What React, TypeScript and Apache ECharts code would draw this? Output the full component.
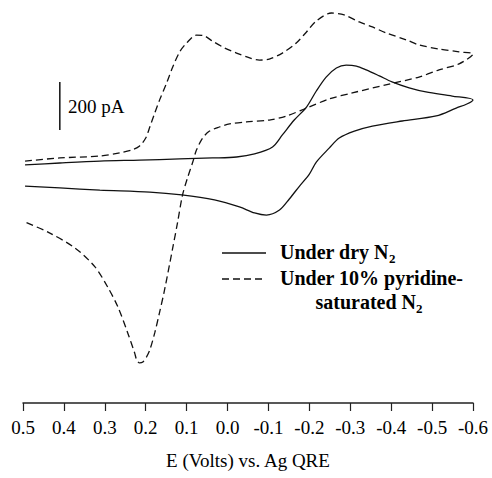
import React, { useEffect, useRef } from "react";
import * as echarts from "echarts";

// Potential (V vs Ag QRE) and current (pA).
// Under dry N2: forward scan (0.5 -> -0.6) then return scan.
const dryForward: number[][] = [
  [0.495, -8], [0.41, 0], [0.312, 8], [0.215, 12], [0.117, 17], [0.037, 21],
  [-0.022, 25], [-0.066, 38], [-0.11, 67], [-0.134, 117], [-0.163, 179],
  [-0.193, 233], [-0.217, 300], [-0.241, 358], [-0.266, 396], [-0.29, 408],
  [-0.315, 404], [-0.339, 388], [-0.371, 363], [-0.402, 338], [-0.444, 313],
  [-0.485, 296], [-0.549, 279], [-0.6, 263],
];
const dryReturn: number[][] = [
  [-0.585, 246], [-0.559, 229], [-0.51, 196], [-0.427, 175], [-0.354, 154],
  [-0.31, 133], [-0.273, 104], [-0.249, 63], [-0.217, 4], [-0.2, -46],
  [-0.176, -96], [-0.151, -150], [-0.127, -196], [-0.095, -217], [-0.066, -208],
  [-0.029, -183], [0.032, -154], [0.112, -133], [0.19, -121], [0.312, -113],
  [0.41, -104], [0.495, -96],
];
// Under 10% pyridine-saturated N2
const pyrForward: number[][] = [
  [0.495, 8], [0.41, 21], [0.312, 29], [0.263, 42], [0.234, 54], [0.215, 71],
  [0.2, 104], [0.19, 150], [0.178, 208], [0.166, 263], [0.149, 333],
  [0.134, 400], [0.117, 463], [0.1, 500], [0.076, 533], [0.056, 529],
  [0.037, 508], [0.007, 479], [-0.022, 458], [-0.054, 438], [-0.078, 429],
  [-0.102, 433], [-0.134, 458], [-0.168, 500], [-0.193, 546], [-0.217, 592],
  [-0.254, 625], [-0.285, 617], [-0.322, 588], [-0.354, 567], [-0.388, 542],
  [-0.437, 513], [-0.468, 492], [-0.517, 475], [-0.566, 463], [-0.6, 454],
];
const pyrReturn: number[][] = [
  [-0.566, 413], [-0.517, 388], [-0.468, 358], [-0.395, 329], [-0.305, 292],
  [-0.249, 267], [-0.193, 229], [-0.144, 196], [-0.102, 179], [-0.046, 171],
  [-0.005, 163], [0.02, 150], [0.044, 133], [0.061, 104], [0.076, 54],
  [0.085, 4], [0.098, -63], [0.11, -133], [0.122, -246], [0.134, -354],
  [0.154, -529], [0.166, -621], [0.178, -708], [0.19, -779], [0.198, -808],
  [0.207, -829], [0.215, -833], [0.222, -821], [0.227, -792], [0.244, -708],
  [0.268, -600], [0.293, -517], [0.324, -433], [0.373, -354], [0.439, -288],
  [0.495, -246],
];
// 200 pA scale bar
const scaleBar: number[][] = [[0.41, 137.5], [0.41, 337.5]];
const scaleLabel = "200 pA";

const xTicks = { min: -0.6, max: 0.5, interval: 0.1 };
const xTitle = "E (Volts) vs. Ag QRE";
const legendNames = ["Under dry N", "Under 10% pyridine-", "saturated N"];

const FONT = "'Liberation Serif', 'Times New Roman', serif";

export default function App() {
  const ref = useRef<HTMLDivElement>(null);
  useEffect(() => {
    if (!ref.current) return;
    const chart = echarts.init(ref.current, undefined, { renderer: "svg" });
    const lineCol = "#111";
    const rich = {
      b: { fontFamily: FONT, fontSize: 20, fontWeight: "bold", color: "#000", lineHeight: 20 },
      sub: {
        fontFamily: FONT,
        fontSize: 13,
        fontWeight: "bold",
        color: "#000",
        verticalAlign: "bottom",
        lineHeight: 26,
      },
    };
    chart.setOption({
      animation: false,
      backgroundColor: "#fff",
      grid: { left: 23, right: 19, top: 7, bottom: 75, containLabel: false },
      xAxis: {
        type: "value",
        inverse: true,
        min: xTicks.min,
        max: xTicks.max,
        interval: xTicks.interval,
        splitLine: { show: false },
        axisLine: { show: true, onZero: false, lineStyle: { color: "#222", width: 1.5 } },
        axisTick: { show: true, inside: false, length: 8, lineStyle: { color: "#222", width: 1.2 } },
        axisLabel: {
          fontFamily: FONT,
          fontSize: 19,
          color: "#000",
          margin: 15,
          formatter: (v: number) => (Math.abs(v) < 1e-9 ? "0.0" : v.toFixed(1)),
        },
        name: xTitle,
        nameLocation: "middle",
        nameGap: 48,
        nameTextStyle: { fontFamily: FONT, fontSize: 19, color: "#000" },
      },
      yAxis: { type: "value", min: -1000, max: 650, show: false },
      series: [
        {
          type: "line",
          name: "dry",
          data: [...dryForward, ...dryReturn],
          smooth: 0.3,
          showSymbol: false,
          symbol: "none",
          lineStyle: { color: lineCol, width: 1.3 },
        },
        {
          type: "line",
          name: "pyridine",
          data: [...pyrForward, ...pyrReturn],
          smooth: 0.3,
          showSymbol: false,
          symbol: "none",
          lineStyle: { color: lineCol, width: 1.3, type: [7, 4] },
        },
        {
          type: "line",
          name: "scale",
          data: scaleBar,
          showSymbol: false,
          symbol: "none",
          lineStyle: { color: lineCol, width: 1.5 },
        },
      ],
      graphic: [
        {
          type: "text",
          left: 68,
          top: 97,
          style: { text: scaleLabel, font: `19px ${FONT}`, fill: "#000" },
        },
        {
          type: "line",
          shape: { x1: 222, y1: 253, x2: 266, y2: 253 },
          style: { stroke: lineCol, lineWidth: 1.3 },
        },
        {
          type: "line",
          shape: { x1: 222, y1: 279, x2: 266, y2: 279 },
          style: { stroke: lineCol, lineWidth: 1.3, lineDash: [7, 4] },
        },
        {
          type: "text",
          x: 280,
          y: 239,
          style: { text: `{b|${legendNames[0]}}{sub|2}`, rich },
        },
        {
          type: "text",
          x: 280,
          y: 268,
          style: { text: `{b|${legendNames[1]}}`, rich },
        },
        {
          type: "text",
          x: 369,
          y: 289,
          style: { text: `{b|${legendNames[2]}}{sub|2}`, rich, align: "center" },
        },
      ],
    });
    return () => chart.dispose();
  }, []);
  return (
    <div
      ref={ref}
      style={{ position: "fixed", left: 0, top: 0, width: 492, height: 478, background: "#fff" }}
    />
  );
}
